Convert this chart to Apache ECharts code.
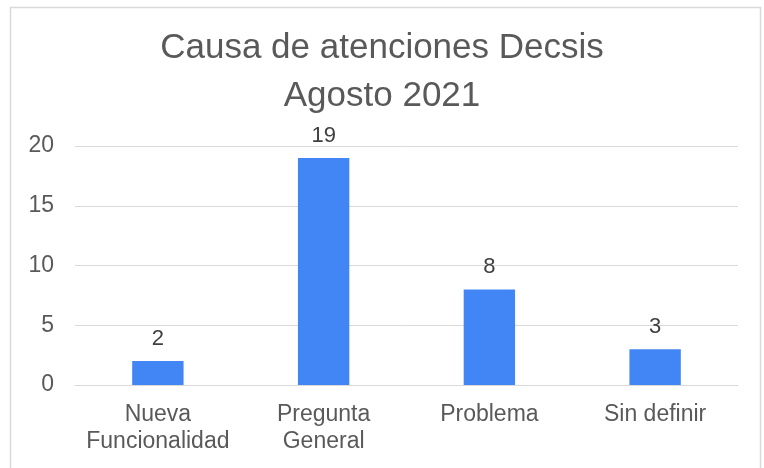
<!DOCTYPE html>
<html>
<head>
<meta charset="utf-8">
<script src="https://cdn.jsdelivr.net/npm/echarts@6/dist/echarts.min.js"></script>
<style>
  html, body { margin: 0; padding: 0; background: #fff; }
  #chart { width: 764px; height: 468px; }
</style>
</head>
<body>
<div id="chart"></div>
<script>
const categories = ['Nueva\nFuncionalidad', 'Pregunta\nGeneral', 'Problema', 'Sin definir']
const values = [2, 19, 8, 3]
const titleText = 'Causa de atenciones Decsis\nAgosto 2021'

const textColor = '#595959'
const font = 'Liberation Sans, Arial, sans-serif'

const chart = echarts.init(document.getElementById('chart'))
chart.setOption({
  animation: false,
  backgroundColor: '#fff',
  graphic: [{
    type: 'rect',
    shape: { x: 10.5, y: 7.5, width: 750, height: 470 },
    style: { fill: 'none', stroke: '#d9d9d9', lineWidth: 1.5 },
    silent: true,
  }],
  title: {
    text: titleText,
    left: 'center',
    top: 19,
    textStyle: {
      fontFamily: font,
      fontSize: 35,
      fontWeight: 'normal',
      color: textColor,
      lineHeight: 48,
    },
  },
  grid: { left: 75, right: 26, top: 146, bottom: 83 },
  xAxis: {
    type: 'category',
    data: categories,
    axisTick: { show: false },
    axisLine: { lineStyle: { color: '#d9d9d9', width: 1 } },
    axisLabel: {
      color: textColor,
      fontFamily: font,
      fontSize: 23,
      lineHeight: 27,
      margin: 16,
      interval: 0,
    },
  },
  yAxis: {
    type: 'value',
    min: 0,
    max: 20,
    interval: 5,
    axisLine: { show: false },
    axisTick: { show: false },
    splitLine: { lineStyle: { color: '#d9d9d9', width: 1 } },
    axisLabel: {
      color: textColor,
      fontFamily: font,
      fontSize: 23,
      margin: 21,
    },
  },
  series: [{
    type: 'bar',
    data: values,
    barWidth: '31%',
    itemStyle: { color: '#4285f4' },
    label: {
      show: true,
      position: 'top',
      distance: 11,
      color: '#404040',
      fontFamily: font,
      fontSize: 22,
    },
  }],
})
</script>
</body>
</html>
